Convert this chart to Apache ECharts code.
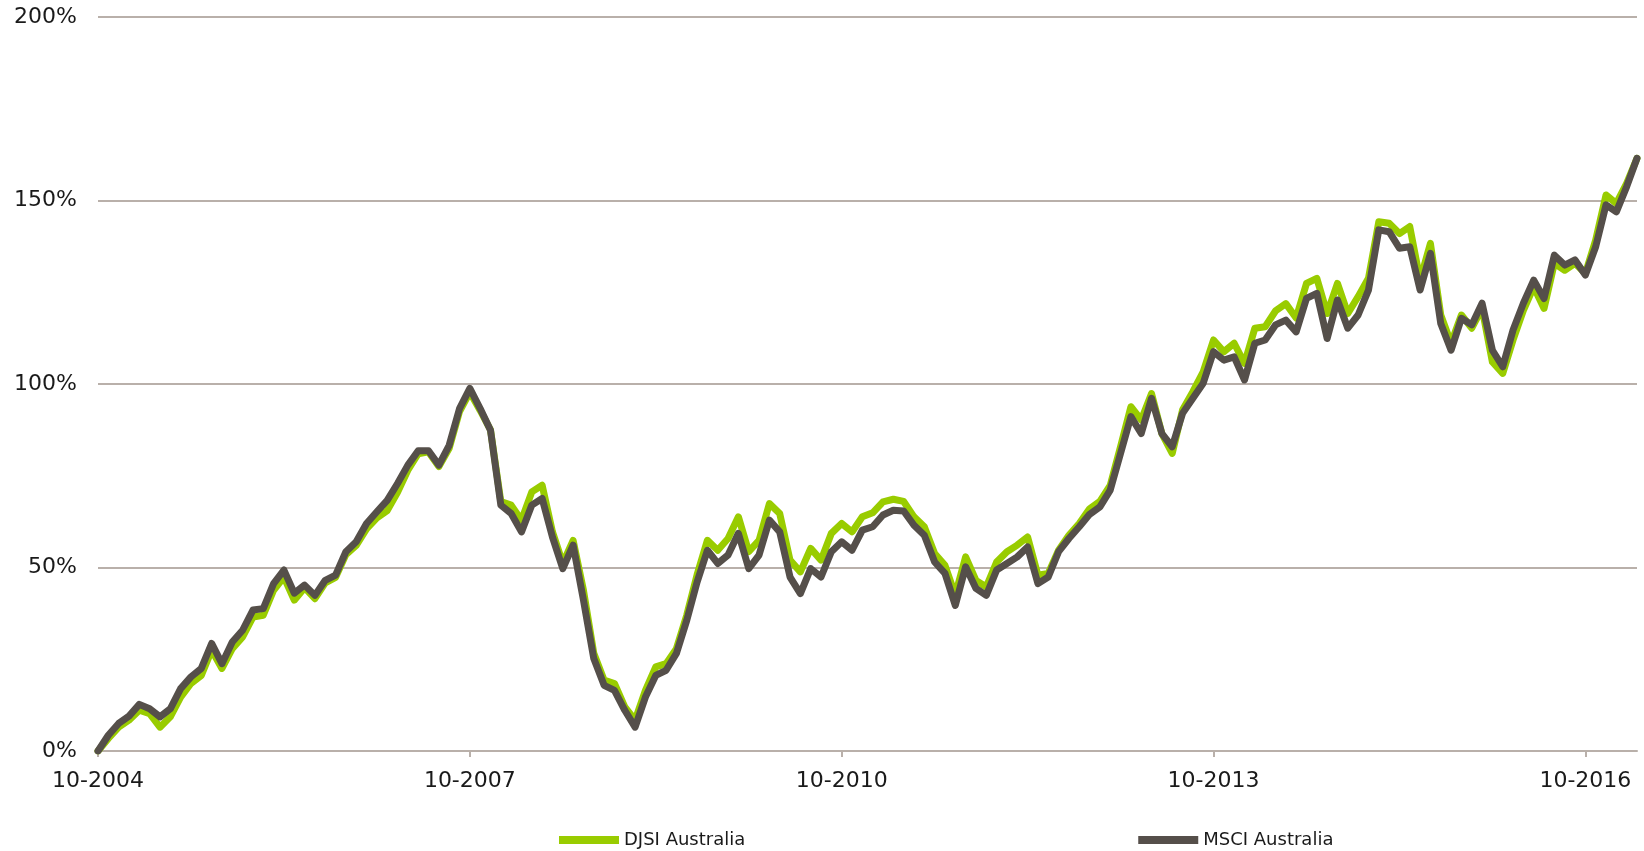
<!DOCTYPE html>
<html>
<head>
<meta charset="utf-8">
<style>
  html, body { margin: 0; padding: 0; background: #fff; }
  #chart { width: 1644px; height: 851px; }
</style>
<script src="https://cdn.jsdelivr.net/npm/echarts@6/dist/echarts.min.js"></script>
</head>
<body>
<div id="chart"></div>
<script>
// monthly points, 10-2004 .. 03-2017
const startYear = 2004, startMonth = 10, pointCount = 150;
const months = [];
for (let k = 0; k < pointCount; k++) {
    const m = (startMonth - 1 + k) % 12 + 1;
    const y = startYear + Math.floor((startMonth - 1 + k) / 12);
    months.push((m < 10 ? '0' + m : '' + m) + '-' + y);
}

const yTicks = [0, 50, 100, 150, 200];

// cumulative performance, %
const djsiAustralia = [
    0, 3.4, 6.5, 8.4, 11.1, 10.2, 6.5, 9.3, 14.7, 18.4,
    20.6, 27.5, 22.5, 27.9, 31.1, 36.5, 37, 43.8, 47.4, 41.1,
    44.5, 41.5, 45.8, 47.3, 53.5, 56, 60.5, 63.5, 65.5, 70.5,
    76.5, 81, 81.5, 77.5, 82.5, 92.5, 97.8, 92.8, 87.5, 68,
    67, 62.9, 70.6, 72.4, 59.7, 51.1, 57.4, 43.8, 26.6, 19.3,
    18.4, 12, 8.4, 16.5, 22.9, 23.8, 27.9, 37, 48, 57.4,
    54.7, 57.9, 63.8, 54.3, 57.4, 67.4, 64.7, 52, 48.8, 55.2,
    52, 59.3, 62, 59.7, 63.8, 64.9, 67.9, 68.6, 68, 63.8,
    61.1, 53.8, 50.6, 42.5, 52.9, 46.5, 44.7, 51.5, 54.3, 56.1,
    58.3, 47.9, 48.4, 54.7, 58.8, 62, 66, 68, 72.4, 82.9,
    93.8, 90.2, 97.4, 86.5, 81.1, 92.9, 97.9, 103.3, 112, 108.8,
    111.1, 105.6, 115.2, 115.6, 119.9, 121.9, 118, 127.4, 128.8, 119.2,
    127.4, 119.2, 123.8, 128.8, 144.2, 143.8, 141, 142.9, 128.3, 138.3,
    118.8, 111.1, 118.8, 115.2, 120.6, 106, 102.9, 112, 120.1, 126.5,
    120.6, 132.9, 131, 132.9, 130.1, 139.2, 151.5, 149.2, 154.7, 161.5
];
const msciAustralia = [
    0, 4.3, 7.5, 9.5, 12.7, 11.5, 9.3, 11.5, 17, 20.2,
    22.5, 29.3, 23.8, 29.7, 32.9, 38.4, 38.8, 45.6, 49.3, 43,
    45.2, 42.4, 46.5, 47.9, 54.3, 57, 62, 65.2, 68.3, 72.9,
    77.9, 81.8, 81.8, 77.9, 83.3, 93.3, 98.8, 93.3, 87.4, 67,
    64.7, 59.7, 67, 68.8, 58.3, 49.7, 56.1, 41.1, 25.2, 17.9,
    16.5, 11.1, 6.5, 14.7, 20.6, 22, 26.6, 35.6, 46, 54.7,
    51.1, 53.4, 59.3, 49.7, 53.4, 62.9, 59.7, 47.4, 42.9, 49.7,
    47.4, 54.3, 57, 54.7, 60.2, 61.1, 64.3, 65.6, 65.4, 61.5,
    58.8, 51.5, 48.4, 39.7, 50.2, 44.3, 42.4, 49.3, 51.1, 52.9,
    55.6, 45.6, 47.4, 54.3, 57.9, 61.1, 64.5, 66.5, 71.1, 81.1,
    91.1, 86.5, 96.1, 86.5, 82.9, 92, 96.1, 100.2, 108.8, 106.5,
    107.4, 101.1, 111.1, 112, 116.1, 117.4, 114.2, 123.3, 124.7, 112.4,
    122.9, 115.2, 118.8, 125.6, 142, 141.5, 137, 137.4, 125.6, 135.6,
    116.5, 109.2, 117.9, 116.1, 122, 109.2, 104.7, 114.7, 122, 128.3,
    123.3, 135.1, 132.4, 133.8, 129.7, 137.4, 148.8, 146.9, 153.8, 161.5
];

const chart = echarts.init(document.getElementById('chart'));
const gridColor = '#b9b0aa';
const textStyle = { fontFamily: 'DejaVu Sans', fontSize: 22, color: '#1a1a1a' };

chart.setOption({
    animation: false,
    color: ['#99cc00', '#554f4a'],
    grid: { left: 98, right: 7, top: 17, bottom: 100, containLabel: false },
    legend: {
        data: ['DJSI Australia', 'MSCI Australia'],
        left: 554,
        bottom: -3,
        icon: 'rect',
        itemWidth: 60,
        itemHeight: 8,
        itemGap: 393,
        textStyle: { fontFamily: 'DejaVu Sans', fontSize: 18, color: '#1a1a1a' }
    },
    xAxis: {
        type: 'category',
        boundaryGap: false,
        data: months,
        axisLine: { lineStyle: { color: gridColor, width: 2 } },
        axisTick: { interval: 35, length: 6, lineStyle: { color: gridColor, width: 2 } },
        axisLabel: Object.assign({ interval: 35, margin: 19 }, textStyle),
        splitLine: { show: false }
    },
    yAxis: {
        type: 'value',
        min: yTicks[0],
        max: yTicks[yTicks.length - 1],
        interval: 50,
        axisLine: { show: false },
        axisTick: { show: false },
        axisLabel: Object.assign({ margin: 21, formatter: '{value}%', padding: [4, 0, 0, 0] }, textStyle),
        splitLine: { lineStyle: { color: gridColor, width: 2 } }
    },
    series: [
        {
            name: 'DJSI Australia',
            type: 'line',
            data: djsiAustralia,
            showSymbol: false,
            lineStyle: { width: 7, join: 'round', cap: 'round' }
        },
        {
            name: 'MSCI Australia',
            type: 'line',
            data: msciAustralia,
            showSymbol: false,
            lineStyle: { width: 7, join: 'round', cap: 'round' }
        }
    ]
});
</script>
</body>
</html>
